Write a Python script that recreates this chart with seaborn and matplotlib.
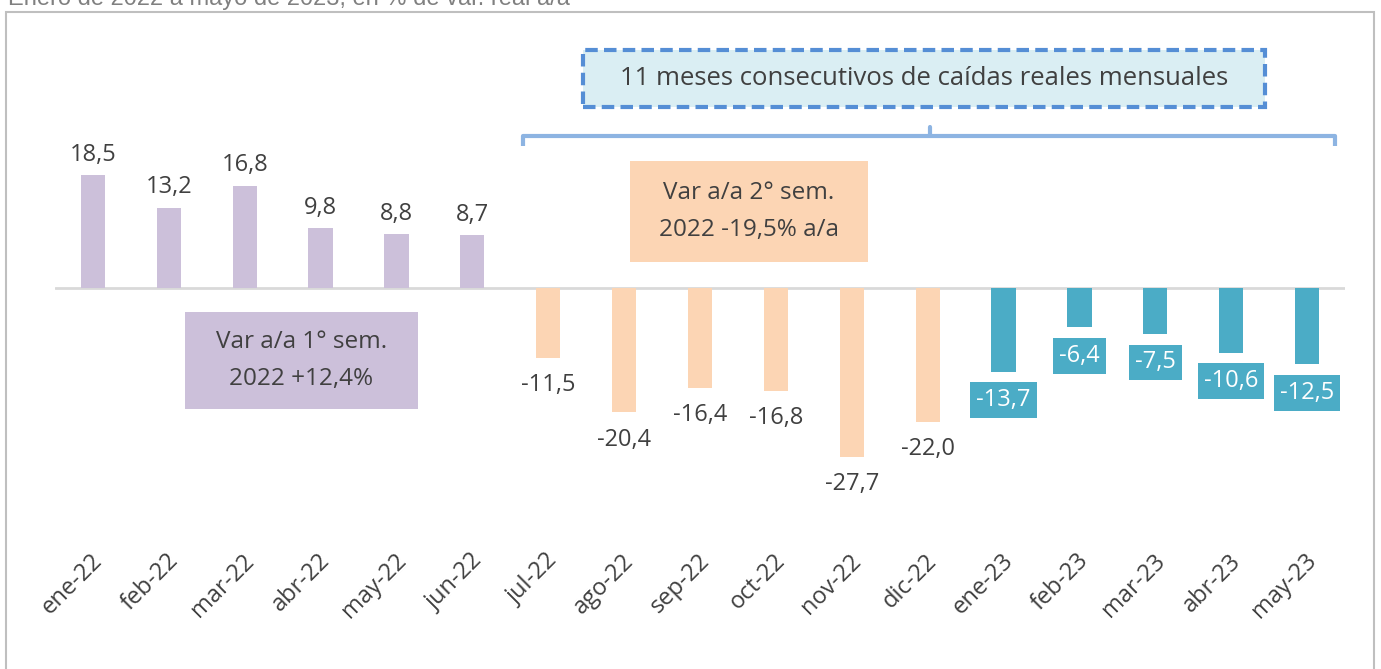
import matplotlib
matplotlib.use("Agg")
import matplotlib.pyplot as plt
import matplotlib.transforms as mtransforms
from matplotlib.patches import Rectangle
import seaborn as sns
import pandas as pd

# ---- data ----
months = ["ene-22", "feb-22", "mar-22", "abr-22", "may-22", "jun-22",
          "jul-22", "ago-22", "sep-22", "oct-22", "nov-22", "dic-22",
          "ene-23", "feb-23", "mar-23", "abr-23", "may-23"]
values = [18.5, 13.2, 16.8, 9.8, 8.8, 8.7,
          -11.5, -20.4, -16.4, -16.8, -27.7, -22.0,
          -13.7, -6.4, -7.5, -10.6, -12.5]
groups = ["1S22"] * 6 + ["2S22"] * 6 + ["2023"] * 5
subtitle = "Enero de 2022 a mayo de 2023, en % de var. real a/a"
box1_text = "Var a/a 1° sem.\n2022 +12,4%"
box2_text = "Var a/a 2° sem.\n2022 -19,5% a/a"
top_text = "11 meses consecutivos de caídas reales mensuales"

palette = {"1S22": "#CCC0DA", "2S22": "#FCD5B4", "2023": "#4BACC6"}
TXT = "#404040"
FONT = "Open Sans"

sns.set_theme(style="white")
plt.rcParams["font.family"] = [FONT, "DejaVu Sans"]

df = pd.DataFrame({"mes": months, "val": values, "grupo": groups})

W, H = 1381, 669
fig = plt.figure(figsize=(W / 100, H / 100), dpi=100)
ax = fig.add_axes([55 / W, 149 / H, 1290 / W, 490 / H])

sns.barplot(data=df, x="mes", y="val", hue="grupo", palette=palette,
            order=months, dodge=False, width=0.32, legend=False, ax=ax,
            saturation=1, linewidth=0)

ax.set_xlim(-0.5, len(months) - 0.5)
ax.set_ylim(-38.03, 42.30)
ax.axhline(0, color="#D9D9D9", lw=2, zorder=0.5)
for s in ax.spines.values():
    s.set_visible(False)
ax.set_yticks([])
ax.set_xlabel("")
ax.set_ylabel("")

ax.set_xticks(range(len(months)))
ax.set_xticklabels(months, rotation=45, ha="right", va="center",
                   rotation_mode="anchor", fontsize=17, color=TXT)
ax.tick_params(axis="x", length=0, pad=27)
off = mtransforms.ScaledTranslation(0.06, 0, fig.dpi_scale_trans)
for lbl in ax.get_xticklabels():
    lbl.set_transform(lbl.get_transform() + off)

# data labels
LFS = 17
for i, (v, g) in enumerate(zip(values, groups)):
    s = f"{v:.1f}".replace(".", ",")
    if v >= 0:
        ax.annotate(s, (i, v), xytext=(0, 6), textcoords="offset points",
                    ha="center", va="bottom", fontsize=LFS, color=TXT)
    elif g == "2023":
        ax.annotate(s, (i, v), xytext=(0, -12), textcoords="offset points",
                    ha="center", va="top", fontsize=LFS, color="white",
                    bbox=dict(boxstyle="square,pad=0.25", fc=palette[g], ec="none"))
    else:
        ax.annotate(s, (i, v), xytext=(0, -11), textcoords="offset points",
                    ha="center", va="top", fontsize=LFS, color=TXT)

# semester boxes
ax.add_patch(Rectangle((1.213, -19.84), 4.284 - 1.213, 19.84 - 3.93,
                       fc=palette["1S22"], ec="none", zorder=3))
ax.text((1.213 + 4.284) / 2, -11.9, box1_text, ha="center", va="center",
        fontsize=17.5, color=TXT, linespacing=1.75, zorder=4)
ax.add_patch(Rectangle((7.078, 4.26), 10.214 - 7.078, 20.82 - 4.26,
                       fc=palette["2S22"], ec="none", zorder=3))
ax.text((7.078 + 10.214) / 2, 12.54, box2_text, ha="center", va="center",
        fontsize=17.5, color=TXT, linespacing=1.75, zorder=4)

# top dashed box
ax.add_patch(Rectangle((6.458, 29.67), 15.446 - 6.458, 39.0 - 29.67,
                       fc="#DAEEF3", ec="#558ED5", lw=3, ls=(0, (3, 1.5)),
                       zorder=3, clip_on=False))
ax.text((6.458 + 15.446) / 2, 34.3, top_text, ha="center", va="center",
        fontsize=18.5, color=TXT, zorder=4)

# brace
bc = "#8DB4E2"
ax.plot([5.668, 5.668, 16.37, 16.37], [23.3, 24.9, 24.9, 23.3], color=bc,
        lw=3, solid_joinstyle="round", solid_capstyle="butt", zorder=3)
ax.plot([11.03, 11.03], [24.9, 26.4], color=bc, lw=3, zorder=3)

# frame and subtitle
fig.patches.append(Rectangle((6 / W, -0.05), (1374 - 6) / W, (H - 12) / H + 0.05,
                             transform=fig.transFigure, fill=False,
                             ec="#BFBFBF", lw=1.5))
fig.text(8 / W, 1 - 5 / H, subtitle, ha="left", va="baseline", fontsize=17,
         color="#808080", family=["Liberation Sans", "DejaVu Sans"])

fig.savefig("out.png", dpi=100)
